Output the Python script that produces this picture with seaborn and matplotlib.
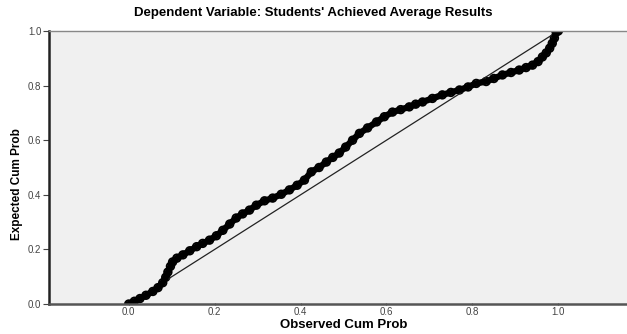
import matplotlib
matplotlib.use("Agg")
import matplotlib.pyplot as plt
import seaborn as sns
import pandas as pd

title = "Dependent Variable: Students' Achieved Average Results"
x_label = "Observed Cum Prob"
y_label = "Expected Cum Prob"

observed = [0.0, 0.013, 0.026, 0.04, 0.056, 0.068, 0.079, 0.086, 0.091, 0.097,
            0.102, 0.112, 0.126, 0.142, 0.158, 0.172, 0.188, 0.204, 0.219, 0.235,
            0.25, 0.265, 0.281, 0.297, 0.316, 0.335, 0.355, 0.374, 0.392, 0.409,
            0.425, 0.443, 0.46, 0.475, 0.49, 0.505, 0.521, 0.537, 0.556, 0.577,
            0.595, 0.614, 0.633, 0.653, 0.668, 0.684, 0.707, 0.73, 0.75, 0.77,
            0.79, 0.809, 0.832, 0.85, 0.87, 0.89, 0.909, 0.925, 0.94, 0.953,
            0.963, 0.972, 0.98, 0.986, 0.991, 0.995, 1.0]
expected = [0.0, 0.01, 0.02, 0.032, 0.046, 0.06, 0.078, 0.098, 0.117, 0.138,
            0.154, 0.168, 0.18, 0.195, 0.21, 0.222, 0.234, 0.25, 0.27, 0.293,
            0.315, 0.33, 0.344, 0.362, 0.378, 0.388, 0.402, 0.418, 0.435, 0.454,
            0.484, 0.5, 0.52, 0.537, 0.553, 0.575, 0.6, 0.625, 0.645, 0.667,
            0.686, 0.703, 0.712, 0.722, 0.732, 0.74, 0.753, 0.766, 0.775, 0.784,
            0.795, 0.808, 0.815, 0.826, 0.839, 0.848, 0.857, 0.866, 0.875, 0.888,
            0.905, 0.92, 0.937, 0.955, 0.974, 0.996, 1.0]
diag_x = [0.0, 1.0]
diag_y = [0.0, 1.0]
ticks = [0.0, 0.2, 0.4, 0.6, 0.8, 1.0]
tick_labels = ["0.0", "0.2", "0.4", "0.6", "0.8", "1.0"]

df = pd.DataFrame({"obs": observed, "exp": expected})
dfd = pd.DataFrame({"x": diag_x, "y": diag_y})

plt.rcParams['font.family'] = ['Liberation Sans', 'DejaVu Sans']

fig = plt.figure(figsize=(6.27, 3.34), dpi=100)
ax = fig.add_axes([0.078, 0.0898, 0.922, 0.8174])
ax.set_facecolor("#f0f0f0")

sns.lineplot(data=dfd, x="x", y="y", ax=ax, color="#222222", linewidth=0.9, sort=False)
sns.lineplot(data=df, x="obs", y="exp", ax=ax, color="black", linewidth=4.6, sort=False)
sns.scatterplot(data=df, x="obs", y="exp", ax=ax, marker="o", s=30,
                facecolor="none", edgecolor="black", linewidth=1.3)

ax.set_xlim(-0.186, 1.16)
ax.set_ylim(0, 1)
ax.set_xticks(ticks)
ax.set_xticklabels(tick_labels)
ax.set_yticks(ticks)
ax.set_yticklabels(tick_labels)
ax.tick_params(axis="both", labelsize=7, colors="#444444", width=0.8)
ax.tick_params(axis="y", length=4.5, pad=1)
ax.tick_params(axis="x", length=2, pad=1.5, direction="inout")

ax.spines["right"].set_visible(False)
ax.spines["left"].set_color("#222222")
ax.spines["left"].set_linewidth(1.8)
ax.spines["bottom"].set_color("#555555")
ax.spines["bottom"].set_linewidth(1.8)
ax.spines["top"].set_color("#888888")
ax.spines["top"].set_linewidth(1.0)

ax.set_xlabel("")
ax.set_ylabel("")
fig.text(0.5, 0.962, title, ha="center", va="center", fontsize=9.5, fontweight="bold")
fig.text(0.5 * (129 + 558) / 627, 1 - 325 / 334, x_label, ha="center", va="center",
         fontsize=9.5, fontweight="bold")
fig.text(17 / 627, 1 - 184 / 334, y_label, ha="center", va="center", rotation=90,
         fontsize=8.5, fontweight="bold")

fig.savefig("out.png", dpi=100)
